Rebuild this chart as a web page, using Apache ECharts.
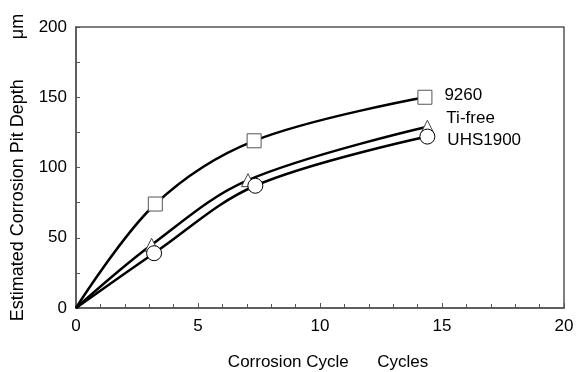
<!DOCTYPE html>
<html>
<head>
<meta charset="utf-8">
<script src="https://cdn.jsdelivr.net/npm/echarts@6/dist/echarts.min.js"></script>
<style>
  html, body { margin: 0; padding: 0; background: #fff; }
  #container { width: 577px; height: 372px; }
</style>
</head>
<body>
<div id="container"></div>
<script type="text/javascript">
    // cycles / depth (um)
    var names = ['9260', 'Ti-free', 'UHS1900'];
    var data9260 = [[0, 0], [3.25, 74], [7.3, 119], [14.3, 150]];
    var dataTiFree = [[0, 0], [3.1, 45], [7.05, 91], [14.4, 129]];
    var dataUHS = [[0, 0], [3.2, 39], [7.35, 87], [14.4, 122]];
    var xName = 'Corrosion Cycle      Cycles';
    var yName = 'Estimated Corrosion Pit Depth        μm';

    var font = 'Liberation Sans, Arial, Helvetica, sans-serif';

    // origin point is the curve start only, no marker
    function points(arr) {
        return arr.map(function (p, i) {
            if (i === 0) return { value: p, symbol: 'none' };
            return p;
        });
    }

    function series(name, arr, symbol, size, border, offset) {
        var d = points(arr);
        var last = d.length - 1;
        d[last] = {
            value: arr[last],
            label: {
                show: true, position: 'right', distance: 12, offset: offset,
                formatter: name, color: '#000', fontSize: 17, fontFamily: font
            }
        };
        return {
            name: name,
            type: 'line',
            smooth: 0.35,
            data: d,
            symbol: symbol,
            symbolSize: size,
            lineStyle: { color: '#000', width: 2.5 },
            itemStyle: { color: '#fff', borderColor: border, borderWidth: 1 },
            z: 3
        };
    }

    var myChart = echarts.init(document.getElementById('container'));
    var option = {
        backgroundColor: '#fff',
        animation: false,
        grid: {
            left: 76, right: 13, top: 27, bottom: 64,
            outerBoundsMode: 'none',
            show: true, borderColor: '#555', borderWidth: 1.5, backgroundColor: 'transparent'
        },
        xAxis: {
            type: 'value', min: 0, max: 20, interval: 5,
            name: xName, nameLocation: 'middle', nameGap: 46,
            nameTextStyle: { color: '#000', fontSize: 17, fontFamily: font, padding: [0, 0, 0, 16] },
            axisLine: { lineStyle: { color: '#555', width: 1.5 } },
            axisTick: { inside: true, length: 5, lineStyle: { color: '#555' } },
            minorTick: { show: true, splitNumber: 5, length: 4, lineStyle: { color: '#555' } },
            axisLabel: { color: '#000', fontSize: 17, fontFamily: font, margin: 10 },
            splitLine: { show: false }
        },
        yAxis: {
            type: 'value', min: 0, max: 200, interval: 50,
            name: yName, nameLocation: 'middle', nameGap: 49,
            nameTextStyle: { color: '#000', fontSize: 18, fontFamily: font },
            axisLine: { lineStyle: { color: '#555', width: 1.5 } },
            axisTick: { inside: true, length: 4, lineStyle: { color: '#555' } },
            minorTick: { show: true, splitNumber: 2, length: 4, lineStyle: { color: '#555' } },
            axisLabel: { color: '#000', fontSize: 17, fontFamily: font, margin: 9 },
            splitLine: { show: false }
        },
        series: [
            series(names[0], data9260, 'rect', 14, '#555', [0, -2]),
            series(names[1], dataTiFree, 'triangle', 13, '#444', [0, -8]),
            series(names[2], dataUHS, 'circle', 15, '#000', [0, 4])
        ]
    };
    myChart.setOption(option);
</script>
</body>
</html>
